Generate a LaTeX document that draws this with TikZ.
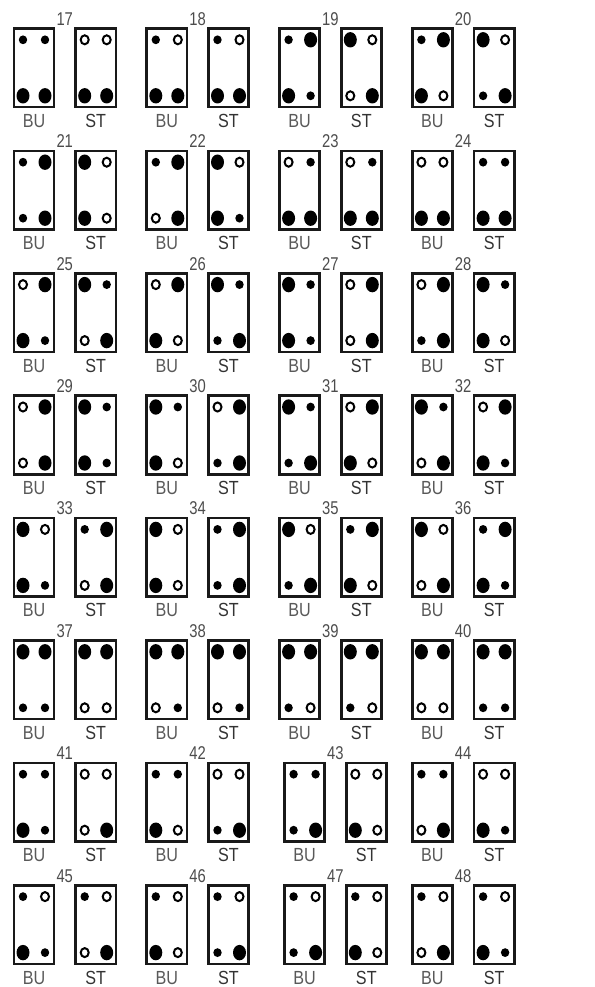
\documentclass[tikz,border=0pt]{standalone}
\usepackage{fontspec}
\setmainfont{Liberation Sans}
\usetikzlibrary{shapes.geometric}
\tikzset{
  boxst/.style={draw=black!90, line width=2.6pt, minimum width=40.2pt, minimum height=78.6pt, inner sep=0pt},
  dL/.style={ellipse, fill=black, minimum width=13pt, minimum height=15.4pt, inner sep=0pt},
  dS/.style={ellipse, fill=black, minimum width=8.4pt, minimum height=8.8pt, inner sep=0pt},
  dO/.style={ellipse, draw=black, line width=2pt, minimum width=8pt, minimum height=9pt, inner sep=0pt},
  numlab/.style={anchor=base west, inner sep=0pt, text=black!70, font=\fontsize{18.5}{18.5}\selectfont},
  lab/.style={anchor=base, inner sep=0pt, font=\fontsize{19}{19}\selectfont},
}
\newcommand\mybox[7]{%
  \node[boxst] (#1) at ({#2+21.3},{#3+40.5}) {};
  \node[d#4] (#1a) at ({#2+10.3},{#3+12.5}) {};
  \node[d#5] (#1b) at ({#2+32.3},{#3+12.5}) {};
  \node[d#6] (#1c) at ({#2+10.3},{#3+68.5}) {};
  \node[d#7] (#1d) at ({#2+32.3},{#3+68.5}) {};
}
\newcommand\grp[5]{%
  \mybox{bu#3}{#1}{#2}#4
  \mybox{st#3}{#1+61.7}{#2}#5
  \node[numlab] (n#3) at ({#1+43.6},{#2-2}) {\scalebox{0.8}[1]{#3}};
  \node[lab, text=black!65] (lb#3) at ({#1+21.3},{#2+100}) {\scalebox{0.85}[1]{BU}};
  \node[lab, text=black!80] (ls#3) at ({#1+61.7+21.3},{#2+100}) {\scalebox{0.85}[1]{ST}};
}
\begin{document}
\begin{tikzpicture}[x=1pt,y=-1pt]
\useasboundingbox (0,0) rectangle (594,987);
% Row 1
\grp{12.7}{27.3}{17}{SSLL}{OOLL}
\grp{145.5}{27.3}{18}{SOLL}{SOLL}
\grp{278.3}{27.3}{19}{SLLS}{LOOL}
\grp{411.1}{27.3}{20}{SLLO}{LOSL}
% Row 2
\grp{12.7}{149.7}{21}{SLSL}{LOLO}
\grp{145.5}{149.7}{22}{SLOL}{LOLS}
\grp{278.3}{149.7}{23}{OSLL}{OSLL}
\grp{411.1}{149.7}{24}{OOLL}{SSLL}
% Row 3
\grp{12.7}{272.1}{25}{OLLS}{LSOL}
\grp{145.5}{272.1}{26}{OLLO}{LSSL}
\grp{278.3}{272.1}{27}{LSLS}{OLOL}
\grp{411.1}{272.1}{28}{OLSL}{LSLO}
% Row 4
\grp{12.7}{394.5}{29}{OLOL}{LSLS}
\grp{145.5}{394.5}{30}{LSLO}{OLSL}
\grp{278.3}{394.5}{31}{LSSL}{OLLO}
\grp{411.1}{394.5}{32}{LSOL}{OLLS}
% Row 5
\grp{12.7}{516.9}{33}{LOLS}{SLOL}
\grp{145.5}{516.9}{34}{LOLO}{SLSL}
\grp{278.3}{516.9}{35}{LOSL}{SLLO}
\grp{411.1}{516.9}{36}{LOOL}{SLLS}
% Row 6
\grp{12.7}{639.3}{37}{LLSS}{LLOO}
\grp{145.5}{639.3}{38}{LLOS}{LLOS}
\grp{278.3}{639.3}{39}{LLSO}{LLSO}
\grp{411.1}{639.3}{40}{LLOO}{LLSS}
% Row 7
\grp{12.7}{761.7}{41}{SSLS}{OOOL}
\grp{145.5}{761.7}{42}{SSLO}{OOSL}
\grp{283.3}{761.7}{43}{SSSL}{OOLO}
\grp{411.1}{761.7}{44}{SSOL}{OOLS}
% Row 8
\grp{12.7}{884.1}{45}{SOLS}{SOOL}
\grp{145.5}{884.1}{46}{SOLO}{SOSL}
\grp{283.3}{884.1}{47}{SOSL}{SOLO}
\grp{411.1}{884.1}{48}{SOOL}{SOLS}
\end{tikzpicture}
\end{document}
